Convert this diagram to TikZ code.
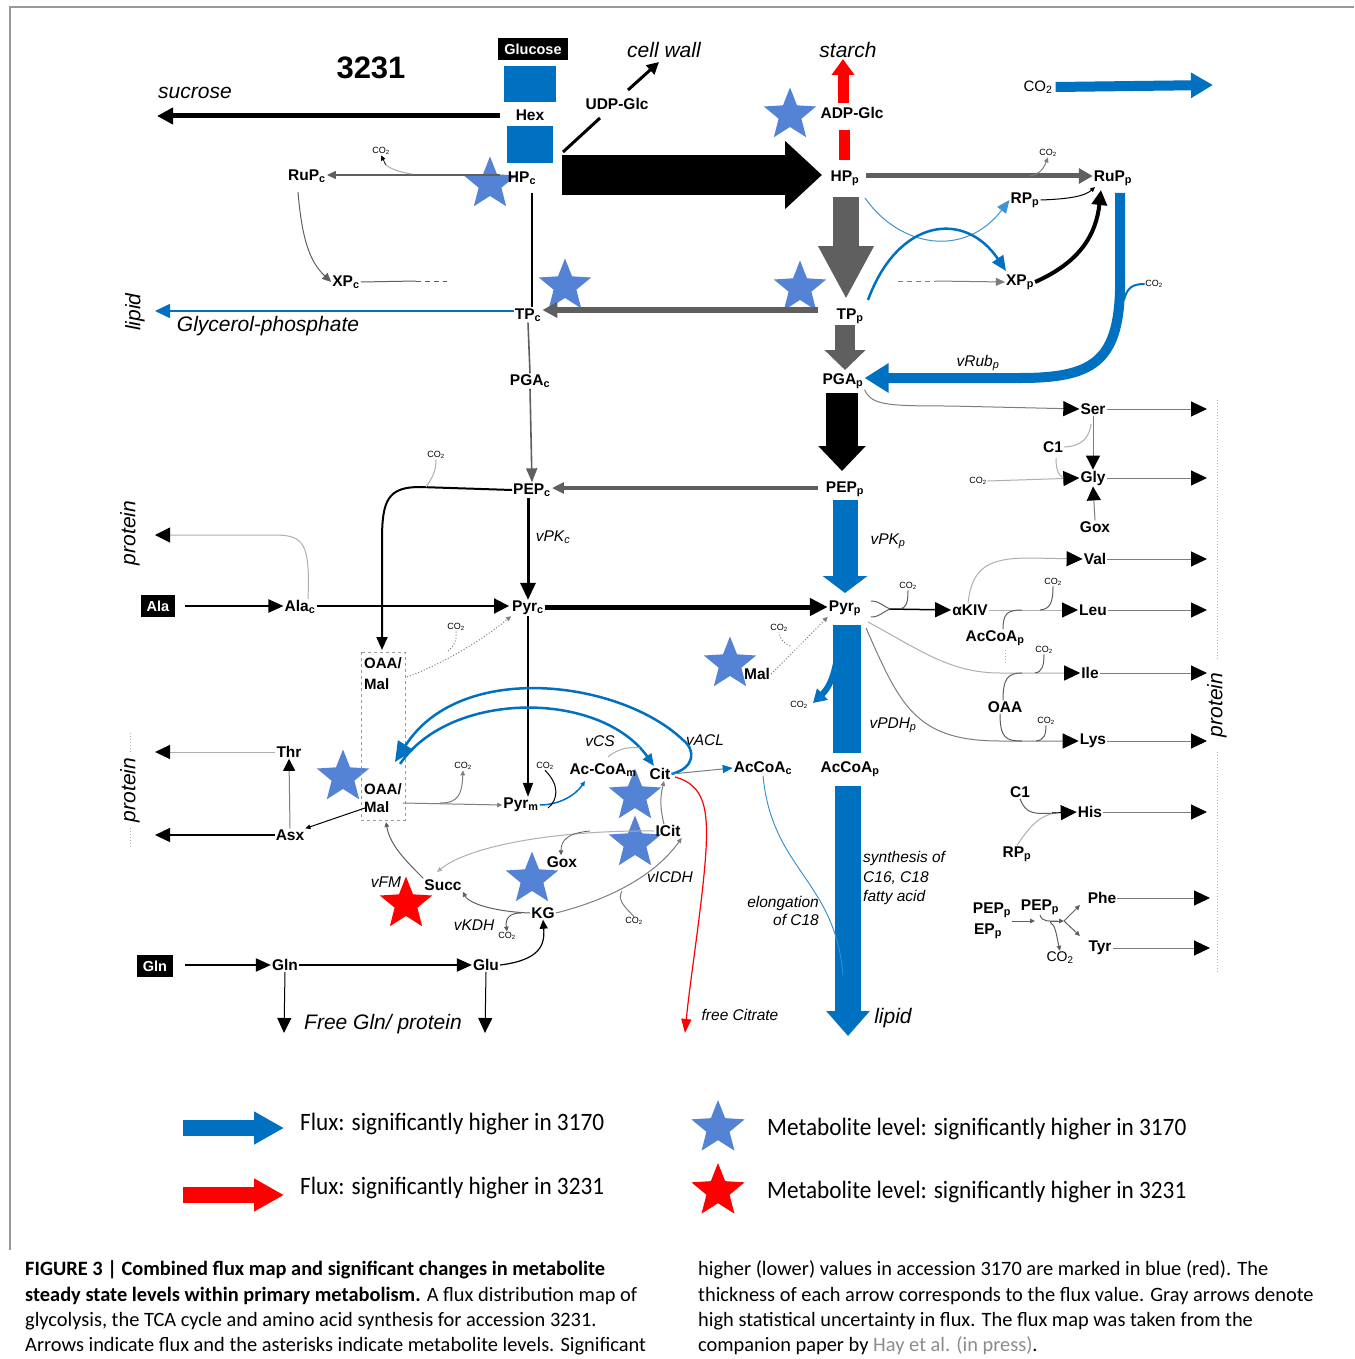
\documentclass[tikz,border=0pt]{standalone}
\usepackage{fontspec}
\setmainfont{Liberation Sans}
\newfontfamily\capfont{Carlito}
\newfontfamily\legfont[FakeStretch=0.93]{Carlito}
\usetikzlibrary{arrows.meta,shapes.geometric}
\pgfdeclarelayer{bg}
\pgfsetlayers{bg,main}
\definecolor{fluxblue}{RGB}{0,112,192}
\definecolor{starblue}{RGB}{84,130,212}
\definecolor{dgray}{RGB}{95,95,95}
\definecolor{mgray}{RGB}{125,125,125}
\definecolor{lgray}{RGB}{175,175,175}
\definecolor{refgray}{RGB}{140,140,140}
\newcommand\lsub[1]{\textsubscript{#1}}
\newcommand\cotwo{CO\textsubscript{2}}
\tikzset{
  met/.style={font=\fontsize{15.5}{18}\selectfont\bfseries, inner sep=1pt},
  itl/.style={font=\fontsize{21}{24}\selectfont\itshape, inner sep=1pt},
  vlab/.style={font=\fontsize{15.5}{18}\selectfont\itshape, inner sep=1pt},
  cotxt/.style={font=\fontsize{9}{10}\selectfont, inner sep=0.5pt},
  blkbox/.style={fill=black, text=white, font=\fontsize{14.5}{16}\selectfont\bfseries, inner sep=2.5pt},
  sb/.style={star, star points=5, star point ratio=2.3, fill=starblue, draw=none, inner sep=0pt, minimum size=55pt},
  sr/.style={sb, fill=red},
  arS/.style={-{Triangle[length=5pt,width=4.5pt]}},
  arM/.style={-{Triangle[length=9pt,width=8pt]}},
  arL/.style={-{Triangle[length=16pt,width=15pt,color=black]}},
  lw1/.style={line width=1pt},
  capline/.style={anchor=west, inner sep=0pt, font=\capfont\fontsize{20.4}{23}\selectfont},
  legtxt/.style={anchor=west, inner sep=0pt, font=\legfont\fontsize{25}{28}\selectfont},
}
\begin{document}
\begin{tikzpicture}[x=1pt,y=-1pt]
\useasboundingbox (0,0) rectangle (1354,1359);
\begin{pgfonlayer}{bg}
\fill[white] (0,0) rectangle (1354,1359);
\end{pgfonlayer}
\draw[gray!80, line width=1.2pt] (10,1250) -- (10,7) -- (1354,7);

% ================= labels =================
\node[font=\fontsize{31}{33}\selectfont\bfseries] (title) at (371,68) {3231};
\node[blkbox, minimum width=70pt, minimum height=22pt] (glc) at (533,49) {Glucose};
\node[met] (hex) at (530,115) {Hex};
\node[met] (udp) at (617,104) {UDP-Glc};
\node[itl] (cellwall) at (664,50) {cell wall};
\node[itl] (sucrose) at (195,93) {sucrose};
\node[met] (HPc) at (522,178) {HP\lsub{c}};
\node[met] (RuPc) at (307,176) {RuP\lsub{c}};
\node[met] (XPc) at (346,282) {XP\lsub{c}};
\node[met] (TPc) at (528,315) {TP\lsub{c}};
\node[met] (PGAc) at (530,381) {PGA\lsub{c}};
\node[met] (PEPc) at (532,490) {PEP\lsub{c}};
\node[met] (Pyrc) at (528,608) {Pyr\lsub{c}};
\node[met] (Alac) at (300,607) {Ala\lsub{c}};
\node[blkbox, minimum width=34pt, minimum height=22pt] (AlaBox) at (158,606) {Ala};
\node[met, align=left, anchor=west, font=\fontsize{15}{21}\selectfont\bfseries] (OAAt) at (363,674) {OAA/\\Mal};
\node[met, align=left, anchor=west, font=\fontsize{15}{18}\selectfont\bfseries] (OAAb) at (363,798) {OAA/\\Mal};
\node[met] (Pyrm) at (521,805) {Pyr\lsub{m}};
\node[met] (AcCoAm) at (603,770) {Ac-CoA\lsub{m}};
\node[met] (Cit) at (660,774) {Cit};
\node[met] (ICit) at (668,831) {ICit};
\node[met] (Gox) at (562,862) {Gox};
\node[met] (Succ) at (443,885) {Succ};
\node[met] (KG) at (543,913) {KG};
\node[met] (Asx) at (290,835) {Asx};
\node[met] (Thr) at (289,752) {Thr};
\node[blkbox, minimum width=36pt, minimum height=22pt] (GlnBox) at (155,966) {Gln};
\node[met] (Gln) at (285,965) {Gln};
\node[met] (Glu) at (486,965) {Glu};
\node[itl] (freeGln) at (383,1024) {Free Gln/ protein};
\node[vlab] (freeCit) at (740,1015) {free Citrate};
\node[met] (AcCoAc) at (763,768) {AcCoA\lsub{c}};
\node[met] (AcCoAp) at (850,769) {AcCoA\lsub{p}};
\node[met] (HPp) at (845,178) {HP\lsub{p}};
\node[met] (ADPGlc) at (852,113) {ADP-Glc};
\node[itl] (starch) at (848,50) {starch};
\node[met] (TPp) at (850,316) {TP\lsub{p}};
\node[met] (PGAp) at (843,381) {PGA\lsub{p}};
\node[met] (PEPp) at (845,489) {PEP\lsub{p}};
\node[met] (Pyrp) at (845,608) {Pyr\lsub{p}};
\node[met] (RuPp) at (1113,178) {RuP\lsub{p}};
\node[met] (RPp) at (1025,200) {RP\lsub{p}};
\node[met] (XPp) at (1020,282) {XP\lsub{p}};
\node[font=\fontsize{15}{17}\selectfont, inner sep=1pt] (CO2top) at (1038,87) {\cotwo};
\node[met] (Mal) at (757,674) {Mal};
\node[met] (Ser) at (1093,409) {Ser};
\node[met] (C1a) at (1053,447) {C1};
\node[met] (Gly) at (1093,478) {Gly};
\node[met] (Gox2) at (1095,527) {Gox};
\node[met] (Val) at (1095,559) {Val};
\node[met] (aKIV) at (970,610) {αKIV};
\node[met] (Leu) at (1093,610) {Leu};
\node[met] (AcCoAp2) at (995,638) {AcCoA\lsub{p}};
\node[met] (Ile) at (1090,673) {Ile};
\node[met] (OAA2) at (1005,707) {OAA};
\node[met] (Lys) at (1093,741) {Lys};
\node[met] (C1b) at (1020,792) {C1};
\node[met] (His) at (1090,812) {His};
\node[met] (RPp2) at (1017,854) {RP\lsub{p}};
\node[met] (PEPp2) at (992,910) {PEP\lsub{p}};
\node[met] (EPp2) at (988,931) {EP\lsub{p}};
\node[met] (PEPp3) at (1040,907) {PEP\lsub{p}};
\node[met] (Phe) at (1102,898) {Phe};
\node[met] (Tyr) at (1100,948) {Tyr};
\node[font=\fontsize{14}{16}\selectfont, inner sep=1pt] (CO2b) at (1060,958) {\cotwo};

% reaction labels
\node[vlab] (vPKc) at (553,537) {vPK\lsub{c}};
\node[vlab] (vPKp) at (888,541) {vPK\lsub{p}};
\node[vlab] (vPDHp) at (893,725) {vPDH\lsub{p}};
\node[vlab] (vRubp) at (978,363) {vRub\lsub{p}};
\node[vlab] (vCS) at (600,741) {vCS};
\node[vlab] (vACL) at (705,740) {vACL};
\node[vlab] (vICDH) at (670,877) {vICDH};
\node[vlab] (vKDH) at (474,925) {vKDH};
\node[vlab] (vFM) at (386,882) {vFM};
\node[itl, rotate=90] (lipidL) at (135,312) {lipid};
\node[itl] (glyph) at (268,326) {Glycerol-phosphate};
\node[itl, rotate=90] (prot1) at (130,533) {protein};
\node[itl, rotate=90] (prot2) at (130,790) {protein};
\node[itl, rotate=90] (prot3) at (1217,705) {protein};
\node[itl] (lipidR) at (893,1018) {lipid};
\node[vlab, align=left, anchor=west, font=\fontsize{15.5}{19.5}\selectfont\itshape] (synth) at (862,878) {synthesis of\\C16, C18\\fatty acid};
\node[vlab, align=right, anchor=east, font=\fontsize{15.5}{18}\selectfont\itshape] (elong) at (820,911) {elongation\\of C18};

% small CO2 labels
\node[cotxt] (c01) at (381,151) {\cotwo};
\node[cotxt] (c02) at (1048,153) {\cotwo};
\node[cotxt] (c03) at (1154,284) {\cotwo};
\node[cotxt] (c04) at (436,455) {\cotwo};
\node[cotxt] (c05) at (456,627) {\cotwo};
\node[cotxt] (c06) at (908,586) {\cotwo};
\node[cotxt] (c07) at (1053,582) {\cotwo};
\node[cotxt] (c08) at (1044,650) {\cotwo};
\node[cotxt] (c09) at (1046,721) {\cotwo};
\node[cotxt] (c10) at (779,628) {\cotwo};
\node[cotxt] (c11) at (799,705) {\cotwo};
\node[cotxt] (c12) at (978,481) {\cotwo};
\node[cotxt] (c13) at (463,766) {\cotwo};
\node[cotxt] (c14) at (545,766) {\cotwo};
\node[cotxt] (c15) at (634,921) {\cotwo};
\node[cotxt] (c16) at (507,936) {\cotwo};

% ================= stars =================
\begin{pgfonlayer}{bg}
\node[sb] (sADP) at (790,115) {};
\node[sb] (sHPc) at (490,184) {};
\node[sb] (sTPc) at (565,286) {};
\node[sb] (sTPp) at (800,288) {};
\node[sb] (sMal) at (730,664) {};
\node[sb] (sOAA) at (343,777) {};
\node[sb] (sCit) at (635,796) {};
\node[sb] (sICit) at (635,843) {};
\node[sb] (sGox) at (532,879) {};
\node[sr] (sSucc) at (406,904) {};
\end{pgfonlayer}

% ================= upper part =================
\fill[fluxblue] (504,66) rectangle (556,102);
\fill[fluxblue] (507,126) rectangle (553,163);
\coordinate (sucEnd) at (157,116);
\draw[line width=5pt, -{Triangle[length=16pt,width=16pt]}] (500,116) -- (sucEnd);
\coordinate (udpA) at (563,152);
\coordinate (udpB) at (600,118);
\draw[line width=3pt] (udpA) -- (udpB);
\coordinate (cwA) at (628,90);
\coordinate (cwB) at (659,62);
\draw[line width=3pt, -{Triangle[length=12pt,width=12pt]}] (cwA) -- (cwB);
\draw[line width=40pt, -{Triangle[length=37pt,width=66pt]}] (562,175) -- (822,175);
% starch
\draw[red, line width=11pt] (844,160) -- (844,130);
\draw[red, line width=11pt, -{Triangle[length=16pt,width=22pt]}] (843,103) -- (843,59);
% CO2 top
\draw[fluxblue, line width=10pt, -{Triangle[length=22pt,width=24pt]}] (CO2top.east) ++(2,0) -- (1213,85);
% HPp -> RuPp
\draw[dgray, line width=5pt, -{Triangle[length=14pt,width=15pt]}] (866,176) -- (RuPp.west |- 0,176);
\draw[mgray, lw1, arS] (1030,176) .. controls (1038,175) and (1043,170) .. (c02.south);
% HPc -> RuPc
\draw[dgray, line width=1.3pt, arM] (500,175) -- (RuPc.east |- 0,175);
\draw[lgray, lw1] (412,174) .. controls (398,172) and (388,168) .. (384,163);
\draw[black, line width=0.6pt, arS] (386,165) -- (c01.south);
\draw[dgray, lw1, arM] (298,192) .. controls (302,240) and (310,262) .. (XPc.west);
\draw[dgray, lw1] (XPc.east) -- (416,281);
\draw[dgray, lw1, dash pattern=on 5pt off 4pt] (416,281) -- (447,281);
\draw[line width=1.3pt] (532,193) -- (TPc.north -| 532,0);
% glycerol-phosphate
\coordinate (lipEnd) at (155,311);
\draw[fluxblue, line width=1.5pt, -{Triangle[length=15pt,width=14pt]}] (TPc.west |- 0,311) -- (lipEnd);
% TPp -> TPc
\draw[dgray, line width=6pt, -{Triangle[length=15pt,width=15pt]}] (818,310) -- (TPc.east |- 0,310);
\draw[dgray, line width=1.6pt] (TPc.south) -- (PGAc.north);
\draw[dgray, line width=1.6pt, -{Triangle[length=14pt,width=11pt]}] (PGAc.south) -- (PEPc.north);
% plastid trunk
\draw[dgray, line width=26pt, -{Triangle[length=53pt,width=52pt]}] (846,197) -- (846,299);
\draw[dgray, line width=20pt, -{Triangle[length=20pt,width=40pt]}] (845,325) -- (845,370);
\draw[black, line width=32pt, -{Triangle[length=25pt,width=46pt]}] (842,393) -- (842,471);
\draw[fluxblue, line width=25pt, -{Triangle[length=17pt,width=44pt]}] (845,500) -- (845,593);
\draw[fluxblue, line width=28pt] (847,625) -- (847,753);
\draw[fluxblue, line width=26pt, -{Triangle[length=25pt,width=42pt]}] (848,786) -- (848,1036);
\draw[fluxblue, line width=6pt, -{Triangle[length=13pt,width=15pt]}] (839,633) .. controls (838,665) and (832,685) .. (813,703);
% RPp / XPp area
\draw[fluxblue!75, line width=1pt, -{Triangle[length=13pt,width=11pt]}] (865,198) .. controls (900,248) and (965,258) .. (RPp.west);
\draw[fluxblue, line width=2.5pt, -{Triangle[length=15pt,width=13pt]}] (868,300) .. controls (898,218) and (965,210) .. (1006,271);
\draw[mgray, lw1, dash pattern=on 5pt off 4pt] (898,281) -- (935,281);
\draw[mgray, lw1, arM] (935,281) -- (XPp.west);
\draw[black, line width=4pt, -{Triangle[length=15pt,width=15pt]}] (XPp.east) .. controls (1080,262) and (1096,235) .. (1101,190);
\draw[black, lw1, arS] (RPp.east) .. controls (1070,199) and (1085,196) .. (1095,187);
% vRub
\draw[fluxblue, line width=10pt, -{Triangle[length=24pt,width=28pt]}] (1120,193) -- (1120,290) .. controls (1118,362) and (1092,378) .. (1020,378) -- (PGAp.east |- 0,378);
\draw[fluxblue, line width=2pt] (1124,300) .. controls (1127,288) and (1132,284) .. (c03.west);

% ================= cytosol middle =================
\draw[black, line width=2pt, -{Triangle[length=13pt,width=11pt]}] (PEPc.west) -- (420,487) .. controls (388,487) and (382,500) .. (382,540) -- (382,650);
\draw[lgray, lw1] (426,487) .. controls (432,478) and (436,472) .. (c04.south);
\draw[dgray, line width=3.5pt, -{Triangle[length=12pt,width=11pt]}] (818,488) -- (PEPc.east |- 0,488);
\draw[black, line width=3pt, -{Triangle[length=17pt,width=15pt]}] (PEPc.south -| 528,0) -- (Pyrc.north);
\draw[black, line width=2pt, -{Triangle[length=15pt,width=13pt]}] (185,606) -- (Alac.west |- 0,606);
\draw[black, line width=2pt, -{Triangle[length=15pt,width=15pt]}, shorten >=2pt] (Alac.east |- 0,606) -- (Pyrc.west |- 0,606);
\coordinate (protEnd1) at (155,535);
\draw[lgray, lw1, -{Triangle[length=15pt,width=15pt,color=black]}] (Alac.north -| 308,0) .. controls (310,545) and (305,535) .. (275,535) -- (protEnd1);
\draw[mgray, lw1, dotted, arS] (407,677) .. controls (440,665) and (480,642) .. (Pyrc.south west);
\draw[mgray, lw1, dotted] (448,651) .. controls (455,645) and (457,640) .. (c05.south);
\draw[black, line width=5pt, -{Triangle[length=18pt,width=17pt]}] (Pyrc.east |- 0,607) -- (Pyrp.west |- 0,607);
\draw[black, line width=1.6pt, -{Triangle[length=14pt,width=10pt]}] (Pyrc.south) -- (Pyrm.north -| 528,0);
\draw[gray!80, line width=1pt, dashed] (361,652) rectangle (405,820);

% ================= TCA =================
\draw[fluxblue, line width=2.5pt, -{Triangle[length=20pt,width=18pt]}] (Cit.east) .. controls (695,768) and (696,750) .. (683,740) .. controls (620,680) and (460,660) .. (395,762);
\draw[fluxblue, line width=2.5pt, -{Triangle[length=12pt,width=10pt]}] (400,764) .. controls (450,690) and (600,690) .. (654,766);
\draw[lgray, lw1] (608,757) .. controls (616,750) and (628,746) .. (640,748);
\draw[mgray, lw1, arS] (OAAb.east |- 0,803) -- (Pyrm.west);
\draw[mgray, lw1, arS] (440,803) .. controls (458,803) and (462,795) .. (c13.south);
\draw[fluxblue, line width=1.5pt, arS] (Pyrm.east) .. controls (558,805) and (575,796) .. (585,781);
\draw[black, lw1] (c14.south) .. controls (560,785) and (558,800) .. (548,808);
\draw[mgray, lw1, -{Triangle[length=10pt,width=8pt,color=fluxblue]}] (Cit.east) -- (AcCoAc.west);
\draw[red, line width=1.2pt, -{Triangle[length=14pt,width=10pt]}] (675,777) .. controls (705,785) and (708,810) .. (706,850) .. controls (703,900) and (690,980) .. (685,1033);
\draw[fluxblue!80, line width=0.9pt] (AcCoAc.south) .. controls (772,870) and (835,880) .. (843,975);
\draw[mgray, lw1, arS] (ICit.north -| 664,0) .. controls (660,808) and (660,798) .. (Cit.south -| 664,0);
\draw[lgray, lw1, arS] (ICit.west) .. controls (560,830) and (470,845) .. (437,872);
\draw[dgray, line width=0.8pt, arS] (590,831) .. controls (568,833) and (561,840) .. (Gox.north -| 561,0);
\draw[mgray, lw1, arS] (KG.east) .. controls (600,902) and (652,880) .. (ICit.south east);
\draw[mgray, lw1] (622,891) .. controls (617,900) and (624,906) .. (c15.north);
\draw[dgray, lw1, arS] (KG.west) .. controls (500,912) and (470,905) .. (Succ.south east);
\draw[dgray, lw1, arS] (521,913) .. controls (510,913) and (505,918) .. (c16.north);
\draw[dgray, lw1, arS] (Succ.north west) .. controls (405,860) and (390,845) .. (386,822);
\draw[black, lw1, arS] (365,808) -- (Asx.north east);
\draw[black, line width=1.3pt, -{Triangle[length=15pt,width=14pt]}] (Asx.west) -- (155,835) coordinate (protEnd2);
\draw[mgray, lw1, -{Triangle[length=12pt,width=12pt,color=black]}] (Asx.north) -- (Thr.south);
\draw[lgray, lw1, -{Triangle[length=15pt,width=14pt,color=black]}] (Thr.west) -- (155,752) coordinate (protEnd3);
\draw[lgray, lw1, dotted] (130,733) -- (130,752);
\draw[lgray, lw1, dotted] (130,828) -- (130,848);
\draw[black, line width=2pt, -{Triangle[length=15pt,width=13pt]}] (185,965) -- (Gln.west);
\draw[black, line width=2pt, -{Triangle[length=15pt,width=13pt]}] (Gln.east) -- (Glu.west);
\draw[black, line width=1.2pt, arM] (Glu.east) .. controls (540,960) and (545,945) .. (KG.south);
\draw[black, lw1, -{Triangle[length=15pt,width=14pt]}] (Gln.south) -- (284,1033);
\draw[black, lw1, -{Triangle[length=15pt,width=14pt]}] (Glu.south) -- (485,1033);
\draw[mgray, lw1, dotted, arS] (Mal.east) .. controls (795,650) and (815,630) .. (Pyrp.south west);
\draw[mgray, lw1, dotted] (790,646) .. controls (782,642) and (780,638) .. (c10.south);

% ================= amino acids (right) =================
\draw[mgray, lw1, arL] (PGAp.south east) .. controls (872,405) and (885,406) .. (950,406) -- (Ser.west);
\draw[mgray, lw1, arL] (Ser.east) -- (1207,409);
\draw[mgray, lw1, -{Triangle[length=14pt,width=14pt,color=black]}] (Ser.south) -- (Gly.north);
\draw[lgray, lw1] (1091,424) .. controls (1089,438) and (1082,446) .. (C1a.east);
\draw[lgray, lw1] (1056,458) .. controls (1056,474) and (1060,479) .. (1072,479);
\draw[lgray, lw1, arL] (c12.east) -- (Gly.west);
\draw[mgray, lw1, arL] (Gly.east) -- (1207,478);
\draw[mgray, lw1, -{Triangle[length=14pt,width=14pt,color=black]}] (Gox2.north) -- (Gly.south);
\draw[lgray, lw1, arL] (aKIV.north -| 968,0) .. controls (972,566) and (990,558) .. (1030,558) -- (Val.west);
\draw[mgray, lw1, arL] (Val.east) -- (1207,559);
\draw[black, line width=1.5pt, -{Triangle[length=16pt,width=15pt]}] (889,609) -- (aKIV.west);
\draw[dgray, lw1] (871,601) .. controls (880,601) and (884,607) .. (890,609);
\draw[dgray, lw1] (871,617) .. controls (880,617) and (884,611) .. (890,609);
\draw[dgray, lw1] (900,609) .. controls (906,608) and (908,603) .. (c06.south);
\draw[lgray, lw1, arL] (aKIV.east) -- (Leu.west);
\draw[dgray, lw1] (AcCoAp2.north -| 1003,0) .. controls (1003,614) and (1007,610) .. (1022,610);
\draw[dgray, lw1] (1040,610) .. controls (1050,609) and (1053,603) .. (c07.south);
\draw[lgray, lw1, dotted] (1005,650) -- (1005,664);
\draw[mgray, lw1, arL] (Leu.east) -- (1207,610);
\draw[lgray, lw1, arL] (868,622) .. controls (920,650) and (950,673) .. (1000,673) -- (Ile.west);
\draw[dgray, lw1] (OAA2.north -| 1003,0) .. controls (1003,678) and (1008,673) .. (1022,673);
\draw[dgray, lw1] (1035,673) .. controls (1042,672) and (1044,666) .. (c08.south);
\draw[mgray, lw1, arL] (Ile.east) -- (1207,673);
\draw[mgray, lw1, arL] (866,628) .. controls (900,705) and (915,741) .. (1000,741) -- (Lys.west);
\draw[dgray, lw1] (OAA2.south -| 1000,0) .. controls (1000,738) and (1006,741) .. (1022,741);
\draw[dgray, lw1] (1036,741) .. controls (1044,740) and (1046,735) .. (c09.south);
\draw[mgray, lw1, arL] (Lys.east) -- (1207,741);
\draw[dgray, lw1] (C1b.south) .. controls (1026,815) and (1035,814) .. (1056,813);
\draw[lgray, lw1] (RPp2.north) .. controls (1030,826) and (1040,815) .. (1056,813);
\draw[black, lw1, -{Triangle[length=16pt,width=15pt]}] (1052,813) -- (His.west);
\draw[mgray, lw1, arL] (His.east) -- (1207,812);
\draw[dgray, lw1, arS] (1012,921) -- (1035,921);
\draw[dgray, lw1] (1040,915) .. controls (1042,922) and (1048,921) .. (1058,921);
\draw[dgray, lw1, arS] (1050,921) -- (1064,921);
\draw[dgray, lw1, arS] (1064,921) -- (1080,905);
\draw[dgray, lw1, arS] (1064,921) -- (1080,936);
\draw[dgray, lw1, arS] (1050,922) .. controls (1056,926) and (1056,934) .. (CO2b.north);
\draw[mgray, lw1, arL] (Phe.east) -- (1210,898);
\draw[mgray, lw1, arL] (Tyr.east) -- (1210,948);
\draw[lgray, lw1, dotted] (1217,400) -- (1217,660);
\draw[lgray, lw1, dotted] (1217,752) -- (1217,972);

% ================= legend =================
\coordinate (lgA1) at (183,1128);
\coordinate (lgB1) at (284,1128);
\coordinate (lgA2) at (183,1195);
\coordinate (lgB2) at (284,1195);
\draw[fluxblue, line width=16pt, -{Triangle[length=30pt,width=31pt]}] (lgA1) -- (lgB1);
\draw[red, line width=16pt, -{Triangle[length=30pt,width=31pt]}] (lgA2) -- (lgB2);
\node[legtxt] (lg1) at (300,1124) {Flux: significantly higher in 3170};
\node[legtxt] (lg2) at (300,1188) {Flux: significantly higher in 3231};
\node[sb, minimum size=56pt] (lgs1) at (718,1128) {};
\node[sr, minimum size=56pt] (lgs2) at (718,1191) {};
\node[legtxt] (lg3) at (767,1129) {Metabolite level: significantly higher in 3170};
\node[legtxt] (lg4) at (767,1192) {Metabolite level: significantly higher in 3231};

% ================= caption =================
\node[capline] (cap1) at (25,1270) {\bfseries FIGURE 3 | Combined flux map and significant changes in metabolite};
\node[capline] (cap2) at (25,1296) {\textbf{steady state levels within primary metabolism.} A flux distribution map of};
\node[capline] (cap3) at (25,1321) {glycolysis, the TCA cycle and amino acid synthesis for accession 3231.};
\node[capline] (cap4) at (25,1346) {Arrows indicate flux and the asterisks indicate metabolite levels. Significant};
\node[capline] (cap5) at (698,1270) {higher (lower) values in accession 3170 are marked in blue (red). The};
\node[capline] (cap6) at (698,1296) {thickness of each arrow corresponds to the flux value. Gray arrows denote};
\node[capline] (cap7) at (698,1321) {high statistical uncertainty in flux. The flux map was taken from the};
\node[capline] (cap8) at (698,1346) {companion paper by \textcolor{refgray}{Hay et al. (in press)}.};
\end{tikzpicture}
\end{document}
